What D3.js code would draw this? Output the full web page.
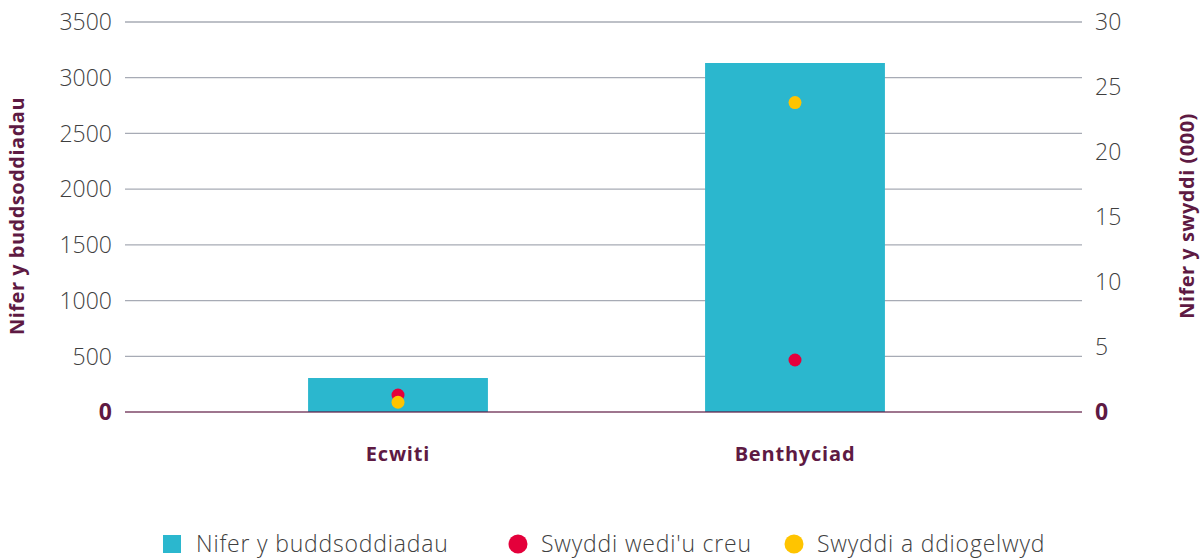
<!DOCTYPE html>
<html>
<head>
<meta charset="utf-8">
<script src="https://cdn.jsdelivr.net/npm/d3@7"></script>
<style>
  body { margin: 0; background: #fff; }
  text { font-family: "Open Sans", Lato, sans-serif; }
</style>
</head>
<body>
<svg width="1204" height="558"></svg>
<script>
// data
var categories = ["Ecwiti", "Benthyciad"];
var investments = [305, 3132];       // Nifer y buddsoddiadau (left axis)
var jobsCreated = [1.3, 4.0];        // Swyddi wedi'u creu (000, right axis)
var jobsSafeguarded = [0.75, 23.8];  // Swyddi a ddiogelwyd (000, right axis)
var leftTicks = [0, 500, 1000, 1500, 2000, 2500, 3000, 3500];
var rightTicks = [0, 5, 10, 15, 20, 25, 30];
var legendLabels = ["Nifer y buddsoddiadau", "Swyddi wedi'u creu", "Swyddi a ddiogelwyd"];

var maroon = "#5e1a43",
    barColor = "#2bb7ce",
    red = "#e4003b",
    yellow = "#ffc400",
    grid = "#a7abb5",
    textGrey = "#3f3f3f";

var svg = d3.select("svg"),
    plotLeft = 125, plotRight = 1082, plotTop = 22, plotBottom = 412;

var x = d3.scaleBand()
    .domain(categories)
    .range([199.5, 993.5])
    .paddingInner(0.547)
    .paddingOuter(0.2735);

var yL = d3.scaleLinear().domain([0, 3500]).range([plotBottom, plotTop]);
var yR = d3.scaleLinear().domain([0, 30]).range([plotBottom, plotTop]);

// gridlines
svg.append("g")
    .selectAll("line")
    .data(leftTicks.filter(function (d) { return d > 0; }))
    .enter().append("line")
    .attr("x1", plotLeft).attr("x2", plotRight)
    .attr("y1", function (d) { return yL(d); })
    .attr("y2", function (d) { return yL(d); })
    .attr("stroke", grid)
    .attr("stroke-width", 1.3);

// bars
svg.append("g")
    .selectAll("rect")
    .data(categories)
    .enter().append("rect")
    .attr("x", function (d) { return x(d); })
    .attr("width", x.bandwidth())
    .attr("y", function (d, i) { return yL(investments[i]); })
    .attr("height", function (d, i) { return plotBottom - yL(investments[i]); })
    .attr("fill", barColor);

// baseline
svg.append("line")
    .attr("x1", plotLeft).attr("x2", plotRight)
    .attr("y1", plotBottom).attr("y2", plotBottom)
    .attr("stroke", maroon)
    .attr("stroke-opacity", 0.8)
    .attr("stroke-width", 1.5);

// dots
function dots(values, color) {
    svg.append("g")
        .selectAll("circle")
        .data(categories)
        .enter().append("circle")
        .attr("cx", function (d) { return x(d) + x.bandwidth() / 2; })
        .attr("cy", function (d, i) { return yR(values[i]); })
        .attr("r", 6.5)
        .attr("fill", color);
}
dots(jobsCreated, red);
dots(jobsSafeguarded, yellow);

// left axis labels
svg.append("g")
    .selectAll("text")
    .data(leftTicks)
    .enter().append("text")
    .attr("x", 112)
    .attr("y", function (d) { return yL(d); })
    .attr("dy", "0.36em")
    .attr("text-anchor", "end")
    .style("font-size", "23px")
    .style("font-weight", function (d) { return d === 0 ? 700 : 300; })
    .attr("fill", function (d) { return d === 0 ? maroon : textGrey; })
    .text(function (d) { return d; });

// right axis labels
svg.append("g")
    .selectAll("text")
    .data(rightTicks)
    .enter().append("text")
    .attr("x", 1095)
    .attr("y", function (d) { return yR(d); })
    .attr("dy", "0.36em")
    .attr("text-anchor", "start")
    .style("font-size", "23px")
    .style("font-weight", function (d) { return d === 0 ? 700 : 300; })
    .attr("fill", function (d) { return d === 0 ? maroon : textGrey; })
    .text(function (d) { return d; });

// category labels
svg.append("g")
    .selectAll("text")
    .data(categories)
    .enter().append("text")
    .attr("x", function (d) { return x(d) + x.bandwidth() / 2; })
    .attr("y", 461)
    .attr("text-anchor", "middle")
    .style("font-size", "20px")
    .style("font-weight", 700)
    .style("letter-spacing", "0.8px")
    .attr("fill", maroon)
    .text(function (d) { return d; });

// axis titles
svg.append("text")
    .attr("transform", "translate(24,216) rotate(-90)")
    .attr("text-anchor", "middle")
    .style("font-size", "20px")
    .style("font-weight", 700)
    .style("letter-spacing", "0.5px")
    .attr("fill", maroon)
    .text("Nifer y buddsoddiadau");

svg.append("text")
    .attr("transform", "translate(1194,216) rotate(-90)")
    .attr("text-anchor", "middle")
    .style("font-size", "20px")
    .style("font-weight", 700)
    .style("letter-spacing", "0.5px")
    .attr("fill", maroon)
    .text("Nifer y swyddi (000)");

// legend
var legend = svg.append("g");
legend.append("rect")
    .attr("x", 163).attr("y", 535).attr("width", 18).attr("height", 18)
    .attr("fill", barColor);
legend.append("circle").attr("cx", 518).attr("cy", 544).attr("r", 9.5).attr("fill", red);
legend.append("circle").attr("cx", 794).attr("cy", 544).attr("r", 9.5).attr("fill", yellow);
var legendX = [196, 541, 817];
legend.selectAll("text")
    .data(legendLabels)
    .enter().append("text")
    .attr("x", function (d, i) { return legendX[i]; })
    .attr("y", 544)
    .attr("dy", "0.36em")
    .style("font-size", "23px")
    .style("font-weight", 300)
    .style("letter-spacing", "0.8px")
    .attr("fill", textGrey)
    .text(function (d) { return d; });
</script>
</body>
</html>
